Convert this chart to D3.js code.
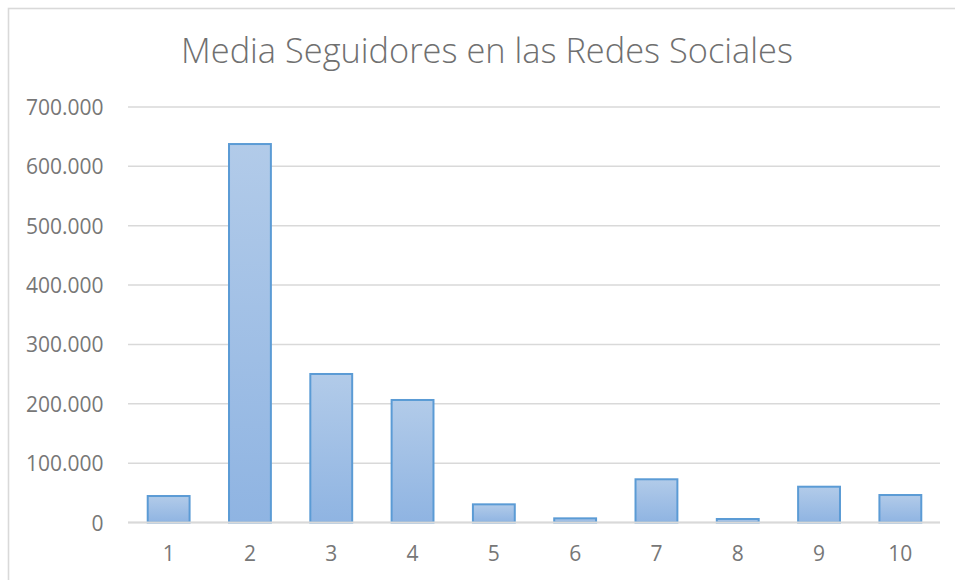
<!DOCTYPE html>
<html>
<head>
<meta charset="utf-8">
<script src="https://cdn.jsdelivr.net/npm/d3@7"></script>
<style>
  html, body { margin: 0; padding: 0; background: #fff; }
  svg { display: block; }
  text { font-family: "Open Sans", Lato, sans-serif; }
</style>
</head>
<body>
<svg id="chart" width="955" height="580"></svg>
<script>
const title = "Media Seguidores en las Redes Sociales";
const categories = ["1", "2", "3", "4", "5", "6", "7", "8", "9", "10"];
const values = [44600, 637600, 250200, 206400, 30600, 7000, 72800, 5900, 60300, 46300];
const yTicks = [0, 100000, 200000, 300000, 400000, 500000, 600000, 700000];

const svg = d3.select("#chart");
const W = 955, H = 580;
const plot = { left: 128, right: 941, top: 107, bottom: 522.5 };

// chart frame
svg.append("rect")
  .attr("x", 8.5).attr("y", 8.5)
  .attr("width", W + 10).attr("height", H + 10)
  .attr("fill", "#fff")
  .attr("stroke", "#d9d9d9").attr("stroke-width", 1.6);

const defs = svg.append("defs");
const grad = defs.append("linearGradient")
  .attr("id", "barGrad").attr("x1", 0).attr("y1", 0).attr("x2", 0).attr("y2", 1);
grad.append("stop").attr("offset", "0%").attr("stop-color", "#b2cbe9");
grad.append("stop").attr("offset", "100%").attr("stop-color", "#8fb4e2");

const x = d3.scaleBand()
  .domain(categories)
  .range([plot.left, plot.right])
  .paddingInner(0.485)
  .paddingOuter(0.2425);

const y = d3.scaleLinear()
  .domain([0, 700000])
  .range([plot.bottom, plot.top]);

const fmt = v => v === 0 ? "0" : d3.format(",")(v).replace(/,/g, ".");

// gridlines
svg.append("g")
  .selectAll("line")
  .data(yTicks)
  .join("line")
  .attr("x1", plot.left).attr("x2", plot.right - 1)
  .attr("y1", d => y(d)).attr("y2", d => y(d))
  .attr("stroke", "#d9d9d9")
  .attr("stroke-width", 1.5);

// y axis labels
const yAxis = d3.axisLeft(y).tickValues(yTicks).tickFormat(fmt).tickSize(0).tickPadding(0);
const gy = svg.append("g").attr("transform", `translate(${plot.left - 24.5},0)`).call(yAxis);
gy.select(".domain").remove();
gy.selectAll("text")
  .attr("fill", "#777")
  .style("font-size", "21px")
  .attr("dy", "0.36em");

// bars
svg.append("g")
  .selectAll("rect")
  .data(values)
  .join("rect")
  .attr("x", (d, i) => x(categories[i]))
  .attr("y", d => y(d))
  .attr("width", x.bandwidth())
  .attr("height", d => y(0) - y(d))
  .attr("fill", "url(#barGrad)")
  .attr("stroke", "#5b9bd5")
  .attr("stroke-width", 2);

// baseline
svg.append("line")
  .attr("x1", plot.left).attr("x2", plot.right - 1)
  .attr("y1", y(0)).attr("y2", y(0))
  .attr("stroke", "#d9d9d9").attr("stroke-width", 1.8);

// x axis labels
const xAxis = d3.axisBottom(x).tickSize(0).tickPadding(0);
const gx = svg.append("g").attr("transform", `translate(0,${plot.bottom + 23})`).call(xAxis);
gx.select(".domain").remove();
gx.selectAll("text")
  .attr("fill", "#777")
  .style("font-size", "21px")
  .attr("dy", "0.75em");

// title
const t = svg.append("text")
  .attr("x", 487).attr("y", 62.5)
  .attr("text-anchor", "middle")
  .attr("fill", "#707070")
  .style("font-size", "30px")
  .style("font-weight", 300)
  .text(title);
// fit title to the reference width
const targetW = 612;
const w0 = t.node().getComputedTextLength();
t.style("font-size", (30 * targetW / w0).toFixed(2) + "px");
</script>
</body>
</html>
